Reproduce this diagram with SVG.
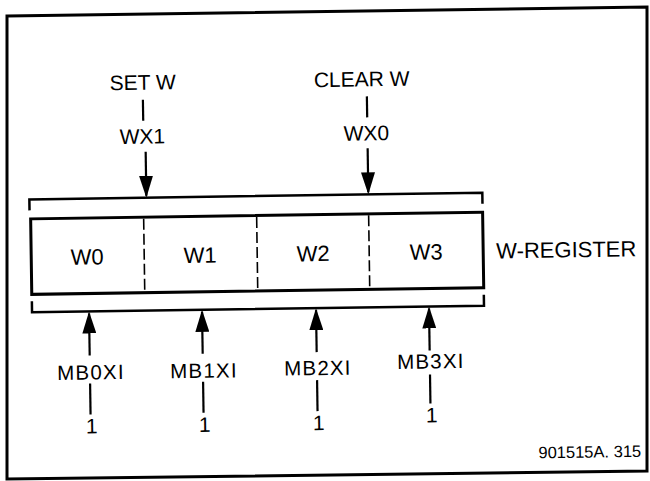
<svg xmlns="http://www.w3.org/2000/svg" width="650" height="481" viewBox="0 0 650 481">
<style>
text{font-family:"Liberation Sans",Arial,sans-serif;fill:#000}
.c{text-anchor:middle}
.lbl{font-size:21px}
.cell{font-size:22px}
.mb{font-size:20.5px;letter-spacing:1.2px}
.one{font-size:21px}
.ln{stroke:#000;stroke-width:2.2;fill:none}
.br{stroke:#000;stroke-width:2.5;fill:none}
.dv{stroke:#000;stroke-width:1.6;stroke-dasharray:11 4;fill:none}
</style>
<defs>
<marker id="ah" markerUnits="userSpaceOnUse" markerWidth="22" markerHeight="14" refX="20" refY="7" orient="auto">
<path d="M0,0 L22,7 L0,14 Z" fill="#000"/>
</marker>
</defs>
<rect width="650" height="481" fill="#fff"/>
<polygon id="frame" points="7,16 647,7 647,471 7,479" fill="none" stroke="#000" stroke-width="3"/>
<g transform="rotate(-0.85 325 240)">
<g id="connectors">
<path class="ln" d="M145,97 V118"/>
<line class="ln" x1="147" y1="149" x2="147" y2="193" marker-end="url(#ah)"/>
<path class="ln" d="M369,97 V118"/>
<line class="ln" x1="369" y1="149" x2="369" y2="193" marker-end="url(#ah)"/>
<line class="ln" x1="88" y1="352" x2="88" y2="310" marker-end="url(#ah)"/>
<line class="ln" x1="201" y1="352" x2="201" y2="310" marker-end="url(#ah)"/>
<line class="ln" x1="315" y1="352" x2="315" y2="310" marker-end="url(#ah)"/>
<line class="ln" x1="428" y1="352" x2="428" y2="310" marker-end="url(#ah)"/>
<path class="ln" d="M88,380 V411"/>
<path class="ln" d="M201,380 V411"/>
<path class="ln" d="M315,380 V411"/>
<path class="ln" d="M428,376 V405"/>
</g>
<g id="w-register">
<path class="br" d="M30,206 V195 H483 V206"/>
<rect x="31" y="214.5" width="452" height="75.5" fill="none" stroke="#000" stroke-width="3"/>
<line class="dv" x1="144" y1="216" x2="144" y2="289"/>
<line class="dv" x1="257" y1="216" x2="257" y2="289"/>
<line class="dv" x1="369" y1="216" x2="369" y2="289"/>
<path class="br" d="M31,297 V308 H483 V297"/>
<text class="cell" x="496" y="261">W-REGISTER</text>
</g>
<g id="w0"><text class="cell c" x="87" y="261">W0</text></g>
<g id="w1"><text class="cell c" x="200" y="261">W1</text></g>
<g id="w2"><text class="cell c" x="313" y="261">W2</text></g>
<g id="w3"><text class="cell c" x="426" y="261">W3</text></g>
<g id="set-w"><text class="lbl c" x="145" y="87">SET W</text><text class="lbl c" x="144" y="141">WX1</text></g>
<g id="clear-w"><text class="lbl c" x="364" y="87">CLEAR W</text><text class="lbl c" x="368" y="141">WX0</text></g>
<g id="mb0"><text class="mb c" x="89" y="376">MB0XI</text><text class="one c" x="89" y="430">1</text></g>
<g id="mb1"><text class="mb c" x="202" y="376">MB1XI</text><text class="one c" x="202" y="430">1</text></g>
<g id="mb2"><text class="mb c" x="316" y="375">MB2XI</text><text class="one c" x="316" y="430">1</text></g>
<g id="mb3"><text class="mb c" x="429" y="370">MB3XI</text><text class="one c" x="429" y="424">1</text></g>
<text x="638" y="461.5" font-size="16.5" text-anchor="end">901515A. 315</text>
</g>
</svg>
